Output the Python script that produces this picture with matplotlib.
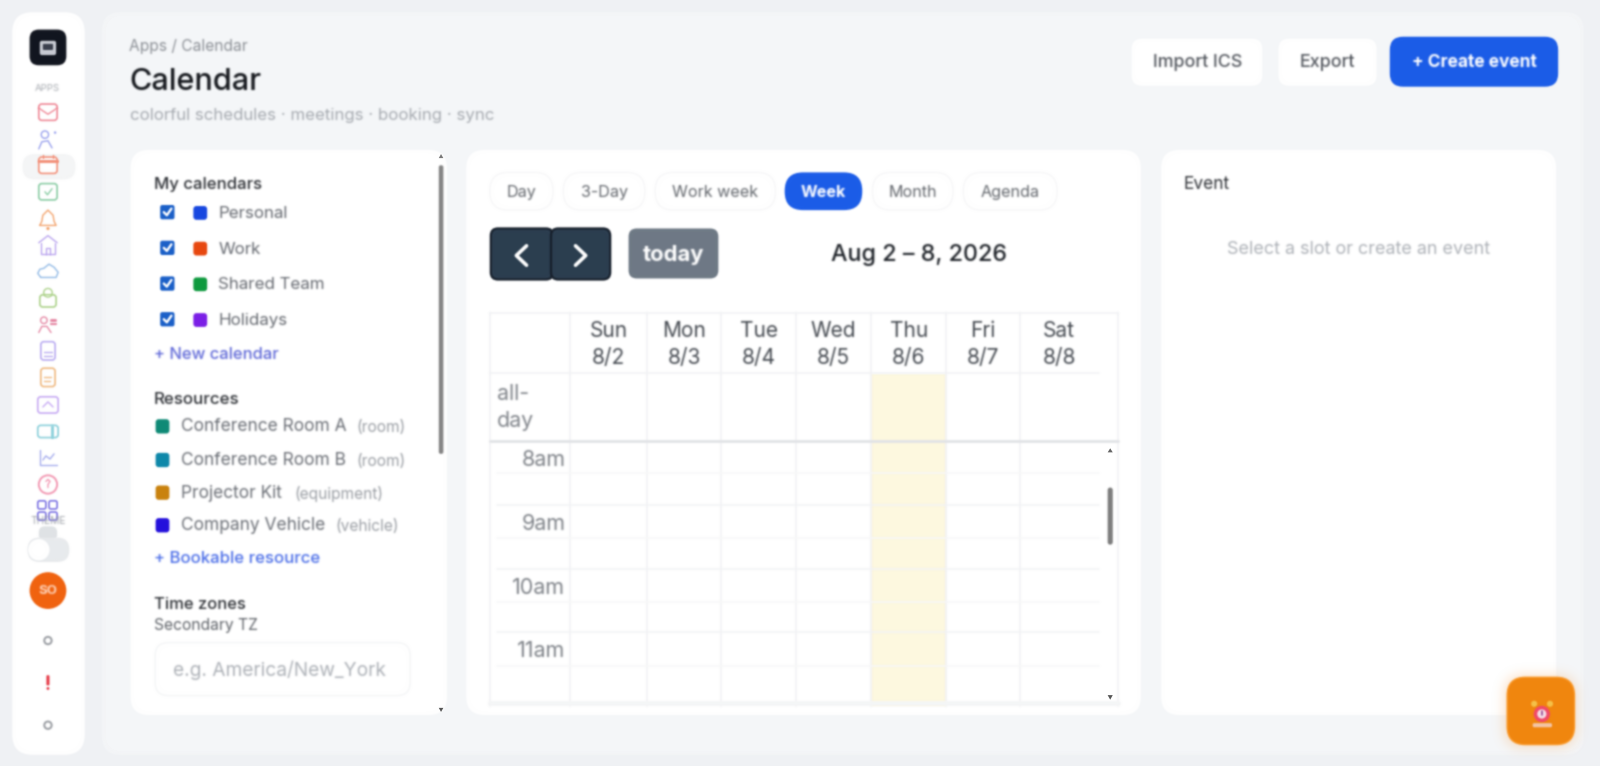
import numpy as np
import matplotlib
matplotlib.use('Agg')
import matplotlib.pyplot as plt
from matplotlib.patches import FancyBboxPatch, Circle, Rectangle, Polygon

plt.rcParams['font.family'] = ['Inter', 'Noto Sans', 'DejaVu Sans']

# ---- content ----
breadcrumb = "Apps / Calendar"
page_title = "Calendar"
page_subtitle = "colorful schedules · meetings · booking · sync"
view_names = ["Day", "3-Day", "Work week", "Week", "Month", "Agenda"]
active_view = "Week"
day_names = ["Sun", "Mon", "Tue", "Wed", "Thu", "Fri", "Sat"]
day_dates = ["8/2", "8/3", "8/4", "8/5", "8/6", "8/7", "8/8"]
today_name = "Thu"
hour_labels = ["8am", "9am", "10am", "11am"]
calendar_names = ["Personal", "Work", "Shared Team", "Holidays"]
calendar_colors = ["#1747e0", "#e8470f", "#0e9a3e", "#7a1ee6"]
resource_names = ["Conference Room A", "Conference Room B", "Projector Kit", "Company Vehicle"]
resource_kinds = ["(room)", "(room)", "(equipment)", "(vehicle)"]
resource_colors = ["#0f8a76", "#0e88aa", "#c9820e", "#2410dc"]
range_title = "Aug 2 – 8, 2026"

FS = 1600 / 1568 * 0.72  # css px -> pt at dpi 100

fig = plt.figure(figsize=(16, 7.66), dpi=100, facecolor='#eff1f4')
ax = fig.add_axes([0, 0, 1, 1])
ax.set_xlim(0, 1568)
ax.set_ylim(751, 0)
ax.axis('off')


def blur_filter(sigma):
    r = int(3 * sigma + 0.5)
    k = np.exp(-0.5 * (np.arange(-r, r + 1) / sigma) ** 2)
    k /= k.sum()

    def f(img, dpi):
        a = np.pad(img.astype(float), ((r, r), (r, r), (0, 0)))
        a[..., :3] *= a[..., 3:4]
        for axis in (0, 1):
            out = np.zeros_like(a)
            for off, w in zip(range(-r, r + 1), k):
                out += w * np.roll(a, off, axis=axis)
            a = out
        al = np.clip(a[..., 3:4], 1e-4, None)
        a[..., :3] = np.clip(a[..., :3] / al, 0, 1)
        return a, -r, -r
    return f


BLUR = blur_filter(0.85)
TBLUR = blur_filter(1.0)
SOFT = blur_filter(5.0)


def rbox(x0, y0, x1, y1, r, fc='white', ec='none', lw=0, z=1, alpha=None, flt=BLUR):
    p = FancyBboxPatch((x0, y0), x1 - x0, y1 - y0,
                       boxstyle=f"round,pad=0,rounding_size={r}",
                       fc=fc, ec=ec, lw=lw, zorder=z, alpha=alpha)
    ax.add_patch(p)
    if flt is not None:
        p.set_agg_filter(flt)
    return p


def txt(x, y, s, px=14, c='#333333', w='normal', ha='left', z=5):
    t = ax.text(x, y + 3.4, s, fontsize=px * FS, color=c, fontweight=w, ha=ha, va='center', zorder=z)
    t.set_agg_filter(TBLUR)
    return t


def pl(xs, ys, c, lw=1.0, z=4, alpha=1.0):
    l, = ax.plot(xs, ys, color=c, lw=lw, zorder=z, alpha=alpha, solid_capstyle='round')
    l.set_agg_filter(BLUR)
    return l


def ci(x, y, r, fc='none', ec='none', lw=1.0, z=4):
    p = Circle((x, y), r, fc=fc, ec=ec, lw=lw, zorder=z)
    ax.add_patch(p)
    p.set_agg_filter(BLUR)
    return p


# ---- shells ----
rbox(12, 12, 83, 740, 20, fc='white', z=1)
rbox(100, 12, 1552, 740, 18, fc='#f4f6f8', z=1)
rbox(128, 147, 438, 701, 18, z=2)
rbox(457, 147, 1118, 701, 18, z=2)
rbox(1138, 147, 1525, 701, 18, z=2)

# ---- sidebar ----
rbox(29, 29, 65, 64, 9, fc='#12151f', z=3)
rbox(39, 40, 55, 54, 2, fc='#c9ccd4', z=4)
rbox(42, 43, 52, 49, 1, fc='#3a3f4c', z=5)
txt(46.5, 83, "APPS", 9.5, '#a5a9af', ha='center')
rbox(22, 151, 74, 176, 12, fc='#f4f5f6', z=2)

C = dict(env='#f08a98', per='#9aa2ee', cal='#f3917a', chk='#8bcda5', bel='#f3a46e',
         hom='#bba6ef', clo='#93bbe6', loc='#aed38c', pe2='#e68aa6', doc='#bbadf2',
         do2='#f0ba82', img='#c8acf4', vid='#8bd0db', cha='#a7aeee', que='#f39ab4', gri='#7d74e4')
X = 47


def box(y, c, w=9, h=8):
    rbox(X - w, y - h, X + w, y + h, 3, fc='white', ec=c, lw=1.2, z=4)


box(110, C['env']); pl([38, 47, 56], [106, 112, 106], C['env'])
ci(44, 132, 3.6, ec=C['per']); pl([38, 41, 47, 51], [146, 139, 138, 145], C['per']); ci(54, 130, 1.2, fc=C['per'])
box(162, C['cal']); pl([38, 56], [158, 158], C['cal'], 2.2); pl([42, 42], [152, 155], C['cal']); pl([52, 52], [152, 155], C['cal'])
box(188, C['chk']); pl([44, 46.5, 51], [188, 191, 185], C['chk'])
pl([39, 41, 42, 47, 52, 53, 55, 39], [221, 217, 211, 206, 211, 217, 221, 221], C['bel']); ci(47, 224, 1.6, fc=C['bel'])
pl([38, 47, 56], [238, 231, 238], C['hom']); pl([40, 40, 54, 54], [238, 249, 249, 238], C['hom']); pl([45, 45, 49, 49], [249, 243, 243, 249], C['hom'])
pl([40, 37, 39, 43, 48, 53, 57, 55, 40], [272, 268, 264, 263, 259, 262, 267, 272, 272], C['clo'])
box(295, C['loc'], 8, 6); ci(47, 287, 4.2, ec=C['loc'])
ci(43, 314, 3.2, ec=C['pe2']); pl([38, 41, 46, 50], [326, 320, 320, 326], C['pe2']); pl([50, 52, 54], [314, 314, 314], C['pe2'], 2.2); pl([50, 55], [318, 318], C['pe2'], 1.6)
box(344, C['doc'], 7, 9); pl([43, 51], [345, 345], C['doc']); pl([43, 51], [349, 349], C['doc'])
box(370, C['do2'], 7, 9); pl([43, 50], [370, 370], C['do2']); pl([43, 49], [374, 374], C['do2'])
box(397, C['img'], 10, 8); pl([42, 47, 52], [399, 394, 399], C['img'])
box(423, C['vid'], 10, 6); pl([51, 51], [418, 428], C['vid'], 2)
pl([39, 39, 56], [441, 456, 456], C['cha']); pl([42, 45, 49, 53], [451, 447, 450, 445], C['cha'])
ci(47, 475, 9, fc='white', ec=C['que'], lw=1.4); pl([45, 47, 49, 47, 47], [472, 470, 472, 475, 478], C['que'])
for gx in (41, 52):
    for gy in (495, 506):
        rbox(gx - 4, gy - 4, gx + 4, gy + 4, 2, fc='white', ec=C['gri'], lw=1.2, z=4)
rbox(38, 516, 56, 530, 6, fc='#dfe2e5', z=3)
txt(47, 507, "THEME", 10, '#a0a4aa', ha='center', z=6)
rbox(27, 527, 68, 551, 12, fc='#e8eaed', z=4)
ci(38, 539, 10.5, fc='white', z=5)
ci(47, 579, 18, fc='#f0620f')
txt(47, 576, "SO", 13, '#ffd9c2', 'bold', ha='center')
ci(47, 628, 3.6, ec='#a0a3a8', lw=1.5)
rbox(45.5, 662, 48.5, 672, 1, fc='#e63946', z=4); ci(47, 675, 1.4, fc='#e63946')
ci(47, 711, 3.6, ec='#a0a3a8', lw=1.5)

# ---- header ----
txt(126, 42, breadcrumb, 15.2, '#8b8f95')
txt(127, 77, page_title, 30, '#14171c', 'medium')
txt(127, 110, page_subtitle, 16.5, '#a6aab0')
rbox(1109, 38, 1237, 84, 10, z=2)
rbox(1253, 38, 1349, 84, 10, z=2)
rbox(1362, 36, 1527, 85, 13, fc='#1b5ce8', z=2)
txt(1174, 58, "Import ICS", 17.5, '#53575e', 'medium', ha='center')
txt(1301, 58, "Export", 17.5, '#53575e', 'medium', ha='center')
txt(1444.5, 58, "+ Create event", 17, 'white', 'bold', ha='center')

# ---- left panel ----
rbox(430, 162, 434.5, 445, 2, fc='#858585', z=3)
ax.add_patch(Polygon([[430, 155], [434.5, 155], [432.2, 151]], fc='#777777', zorder=3))
ax.add_patch(Polygon([[430, 694], [434.5, 694], [432.2, 698]], fc='#555555', zorder=3))
txt(151, 177, "My calendars", 16.4, '#2c2f34', 'medium')
cal_ys = [208, 243, 278, 313]
for yy, name, col in zip(cal_ys, calendar_names, calendar_colors):
    rbox(157, yy - 7, 171, yy + 7, 2, fc='#1a5fc8', z=3)
    pl([160.5, 163.5, 168], [yy, yy + 3, yy - 3.5], 'white', 1.7)
    rbox(189.5, yy - 6, 203, yy + 7.5, 3, fc=col, z=3)
    txt(214, yy - 2, name, 16.6, '#64686f')
txt(151, 344, "+ New calendar", 16.2, '#5f68d8', 'medium')
txt(151, 388, "Resources", 16.6, '#2c2f34', 'medium')
res_ys = [418, 451, 483, 515]
res_kx = [349, 349, 288, 329]
for yy, name, kind, col, kx in zip(res_ys, resource_names, resource_kinds, resource_colors, res_kx):
    rbox(152.5, yy - 7, 166, yy + 7, 3, fc=col, z=3)
    txt(177, yy - 3, name, 17, '#6a6e75')
    txt(kx, yy - 2, kind, 15.2, '#9a9ea4')
txt(151, 544, "+ Bookable resource", 16.4, '#4a6de8', 'medium')
txt(151, 589, "Time zones", 16.2, '#2c2f34', 'medium')
txt(151, 610, "Secondary TZ", 15.3, '#5e6268', 'normal')
rbox(152, 630, 402, 682, 13, fc='white', ec='#f6f7f8', lw=1.2, z=3)
txt(170, 654, "e.g. America/New_York", 18.8, '#adb1b7')

# ---- view tabs ----
tab_x0 = [480, 552, 642, 769, 855, 944]
tab_x1 = [542, 632, 760, 845, 934, 1036]
for a, b, name in zip(tab_x0, tab_x1, view_names):
    on = name == active_view
    rbox(a, 169, b, 206, 18, fc='#1b5ce8' if on else 'white', ec='none' if on else '#f8f8f9', lw=1.2, z=3)
    txt((a + b) / 2, 185, name, 15.8, 'white' if on else '#63676d', 'bold' if on else 'normal', ha='center')

# ---- toolbar ----
rbox(481, 224, 542, 274, 7, fc='#2c3e50', ec='#17202c', lw=1.6, z=3)
rbox(540, 224, 598, 274, 7, fc='#2c3e50', ec='#17202c', lw=1.6, z=3)
pl([516, 506, 516], [241, 250.5, 260], 'white', 2.6, z=5)
pl([564, 574, 564], [241, 250.5, 260], 'white', 2.6, z=5)
rbox(616, 224, 704, 273, 8, fc='#6e7985', z=3)
txt(660, 247, "today", 21.5, 'white', 'bold', ha='center')
txt(900.5, 247, range_title, 22.8, '#1e2228', 'medium', ha='center')

# ---- calendar grid ----
col_edges = [480, 559, 634, 707, 780, 854, 927, 1000, 1077]
for i, nm in enumerate(day_names):
    if nm == today_name:
        r = Rectangle((col_edges[i + 1], 367), col_edges[i + 2] - col_edges[i + 1], 325, fc='#fdf8df', ec='none', zorder=3)
        ax.add_patch(r); r.set_agg_filter(BLUR)
    cx = (col_edges[i + 1] + col_edges[i + 2]) / 2
    if i == 6:
        cx = 1038
    txt(cx, 321.5, nm, 20.5, '#454a51', ha='center')
    txt(cx, 347.5, day_dates[i], 20.5, '#454a51', ha='center')
G = '#f1f2f4'
for xv in col_edges[:-1]:
    pl([xv, xv], [307, 692], G, 1.1, z=3.5)
pl([1096, 1096], [307, 692], G, 1.1, z=3.5)
pl([480, 1096], [307, 307], G, 1.1, z=3.5)
pl([480, 1077], [366, 366], G, 1.1, z=3.5)
pl([480, 1096], [432, 432], '#e2e4e7', 2.0, z=3.5)
pl([480, 1096], [689, 689], '#f5f6f7', 3.5, z=3.5)
for yh in [495, 558, 620]:
    pl([487, 1077], [yh, yh], '#f2f3f5', 1.1, z=3.5)
for yh in [464, 527, 590, 653]:
    pl([487, 1077], [yh, yh], '#f7f8f9', 1.1, z=3.5)
txt(487, 383, "all-", 21, '#80848a')
txt(487, 409, "day", 21, '#80848a')
for yy, lab in zip([448, 510, 573, 635], hour_labels):
    txt(554, yy, lab, 21, '#7e8288', ha='right')
rbox(1085.5, 478, 1090.5, 534, 2.5, fc='#7d7d7d', z=4)
ax.add_patch(Polygon([[1085.5, 443.5], [1090.5, 443.5], [1088, 439.5]], fc='#666666', zorder=4))
ax.add_patch(Polygon([[1085.5, 681.5], [1090.5, 681.5], [1088, 686]], fc='#555555', zorder=4))

# ---- event panel ----
txt(1160, 177, "Event", 17, '#2c2f34', 'normal')
txt(1331, 241.5, "Select a slot or create an event", 17.6, '#adb1b7', ha='center')

# ---- floating button ----
rbox(1472, 660, 1547, 735, 22, fc='#f9b878', alpha=0.3, z=6, flt=SOFT)
rbox(1477, 664, 1543, 730, 18, fc='#f0860e', ec='#fb9a2a', lw=1, z=7)
ci(1503.5, 690, 3, fc='#f6c24a', z=8); ci(1519, 690, 3, fc='#f6c24a', z=8)
ci(1511, 700, 8, fc='#f04a6a', z=9)
ci(1511, 700, 4.5, fc='#f7dfe8', z=10)
pl([1511, 1511], [697, 701], '#8a3a8a', 1.1, z=11)
rbox(1502, 709, 1521, 713, 1.5, fc='#f4c6a8', z=9)

fig.savefig('out.png', dpi=100, facecolor=fig.get_facecolor())
